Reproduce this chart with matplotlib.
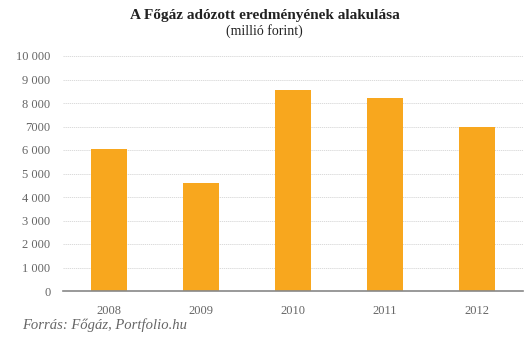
import matplotlib.pyplot as plt

years = ['2008', '2009', '2010', '2011', '2012']
values = [6050, 4600, 8550, 8200, 7000]
yticks = [0, 1000, 2000, 3000, 4000, 5000, 6000, 7000, 8000, 9000, 10000]
ytick_labels = ['0', '1 000', '2 000', '3 000', '4 000', '5 000',
                '6 000', '7000', '8 000', '9 000', '10 000']

plt.rcParams['font.family'] = ['Liberation Serif', 'DejaVu Serif']

fig = plt.figure(figsize=(5.29, 3.40), dpi=100)
ax = fig.add_axes([63 / 529, 1 - 291 / 340, 460 / 529, (291 - 56) / 340])

ax.bar(range(len(years)), values, width=0.4, color='#F8A71E', zorder=3)

ax.set_xlim(-0.5, len(years) - 0.5)
ax.set_ylim(0, 10000)
ax.set_xticks(range(len(years)))
ax.set_xticklabels(years, fontsize=9, color='#666666')
ax.set_yticks(yticks)
ax.set_yticklabels(ytick_labels, fontsize=9, color='#666666')
ax.tick_params(length=0)
ax.tick_params(axis='y', pad=9)
ax.tick_params(axis='x', pad=10)

ax.yaxis.grid(True, color='#d4d4d4', linestyle=(0, (1.5, 1)), linewidth=0.6, zorder=0)
for s in ['top', 'right', 'left']:
    ax.spines[s].set_visible(False)
ax.spines['bottom'].set_color('#888888')
ax.spines['bottom'].set_linewidth(1.2)
ax.spines['bottom'].set_zorder(4)

fig.text(0.5, 1 - 15 / 340, 'A Főgáz adózott eredményének alakulása',
         ha='center', va='center', fontsize=11, fontweight='bold', color='#222222')
fig.text(0.5, 1 - 31 / 340, '(millió forint)',
         ha='center', va='center', fontsize=10, color='#222222')
fig.text(22 / 529, 1 - 325 / 340, 'Forrás: Főgáz, Portfolio.hu',
         ha='left', va='center', fontsize=10.5, style='italic', color='#666666')

fig.savefig('out.png', dpi=100)
